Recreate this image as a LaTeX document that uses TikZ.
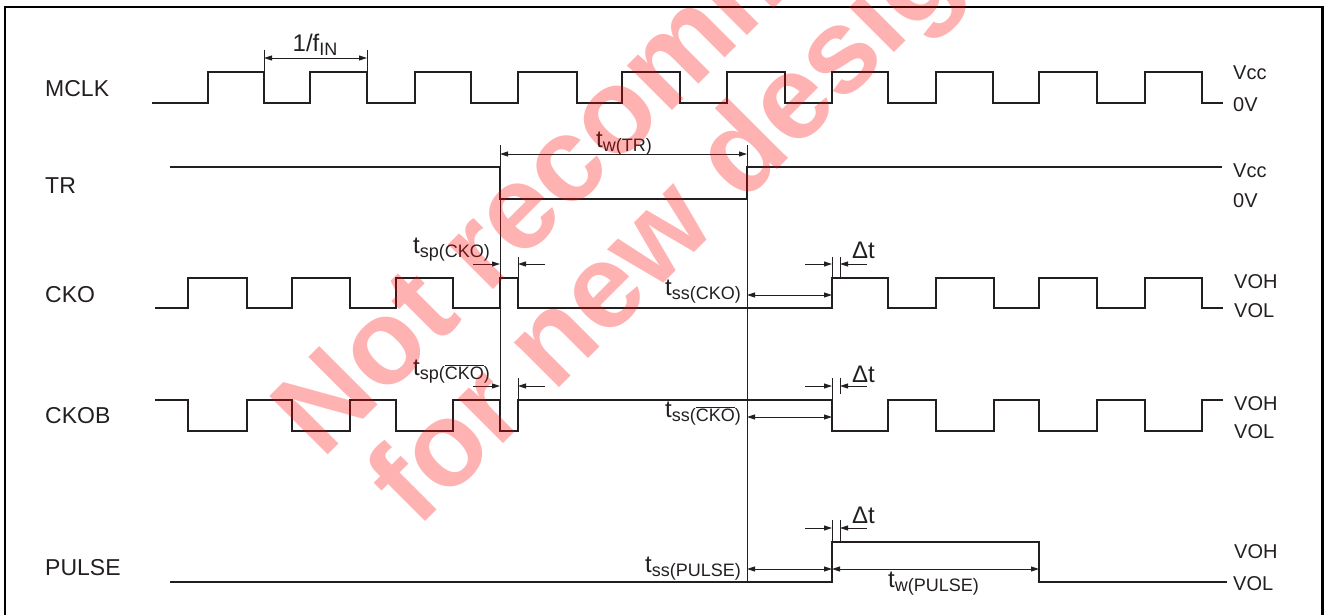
\documentclass[tikz,border=0pt]{standalone}
\usepackage{fontspec}
\setmainfont{Liberation Sans}
\usetikzlibrary{arrows.meta}
\definecolor{sigc}{RGB}{35,31,32}
\newcommand{\sbx}[1]{\raisebox{-4pt}{\fontsize{18}{18}\selectfont #1}}
\newcommand{\ovl}[1]{$\overline{\hbox{#1}}$}
\begin{document}
\begin{tikzpicture}[x=1pt,y=-1pt,
  sig/.style={line width=2.8pt, color=sigc, line join=miter},
  thinl/.style={line width=0.9pt, color=sigc},
  dim/.style={thinl, {Triangle[length=8pt,width=5pt]}-{Triangle[length=8pt,width=5pt]}},
  arr/.style={thinl, -{Triangle[length=8pt,width=5pt]}},
  lbl/.style={font=\fontsize{23}{23}\selectfont, anchor=base west, inner sep=0, text=sigc},
  rl/.style={font=\fontsize{20}{20}\selectfont, anchor=base west, inner sep=0, text=sigc},
  tl/.style={font=\fontsize{24}{24}\selectfont, inner sep=0, text=sigc},
  wm/.style={font=\fontsize{120}{120}\selectfont\bfseries, text=red, text opacity=0.3, rotate=45, anchor=base west, inner sep=0}]
\useasboundingbox (0,0) rectangle (1324,615);
% frame
\draw[line width=2.5pt, color=black] (5,616) -- (5,7) -- (1322.5,7) -- (1322.5,616);
% signal labels
\node[lbl] (lmclk) at (45,97) {MCLK};
\node[lbl] (ltr) at (45,193) {TR};
\node[lbl] (lcko) at (45,302) {CKO};
\node[lbl] (lckob) at (45,423) {CKOB};
\node[lbl] (lpulse) at (45,575) {PULSE};
% level labels
\node[rl] (r1) at (1233,80) {Vcc};
\node[rl] (r2) at (1233,112) {0V};
\node[rl] (r3) at (1233,177) {Vcc};
\node[rl] (r4) at (1233,207) {0V};
\node[rl] (r5) at (1234,288) {VOH};
\node[rl] (r6) at (1234,317) {VOL};
\node[rl] (r7) at (1234,410) {VOH};
\node[rl] (r8) at (1234,438) {VOL};
\node[rl] (r9) at (1234,558) {VOH};
\node[rl] (r10) at (1233,590) {VOL};
% waveforms
\draw[sig] (152,103) -- (208,103) -- (208,72) -- (264,72) -- (264,103) -- (310,103) -- (310,72) -- (367,72) -- (367,103) -- (415,103) -- (415,72) -- (471,72) -- (471,103) -- (518,103) -- (518,72) -- (577,72) -- (577,103) -- (622,103) -- (622,72) -- (680,72) -- (680,103) -- (727,103) -- (727,72) -- (785,72) -- (785,103) -- (832,103) -- (832,72) -- (888,72) -- (888,103) -- (936,103) -- (936,72) -- (993,72) -- (993,103) -- (1039,103) -- (1039,72) -- (1097,72) -- (1097,103) -- (1145,103) -- (1145,72) -- (1202,72) -- (1202,103) -- (1223,103);
\draw[sig] (170,167) -- (500,167) -- (500,199) -- (747,199) -- (747,167) -- (1222,167);
\draw[sig] (155,308) -- (188,308) -- (188,278) -- (247,278) -- (247,308) -- (292,308) -- (292,278) -- (350,278) -- (350,308) -- (396,308) -- (396,278) -- (453,278) -- (453,308) -- (500,308) -- (500,278) -- (518,278) -- (518,308) -- (832,308) -- (832,278) -- (888,278) -- (888,308) -- (936,308) -- (936,278) -- (994,278) -- (994,308) -- (1039,308) -- (1039,278) -- (1097,278) -- (1097,308) -- (1145,308) -- (1145,278) -- (1202,278) -- (1202,308) -- (1223,308);
\draw[sig] (155,400) -- (188,400) -- (188,431) -- (247,431) -- (247,400) -- (292,400) -- (292,431) -- (350,431) -- (350,400) -- (396,400) -- (396,431) -- (453,431) -- (453,400) -- (500,400) -- (500,431) -- (518,431) -- (518,400) -- (832,400) -- (832,431) -- (888,431) -- (888,400) -- (936,400) -- (936,431) -- (994,431) -- (994,400) -- (1039,400) -- (1039,431) -- (1097,431) -- (1097,400) -- (1145,400) -- (1145,431) -- (1202,431) -- (1202,400) -- (1223,400);
\draw[sig] (170,582) -- (832,582) -- (832,542) -- (1039,542) -- (1039,582) -- (1227,582);
% coordinates
\coordinate (fa) at (264,58); \coordinate (fb) at (367,58);
\coordinate (twa) at (500,154); \coordinate (twb) at (747,154);
\coordinate (ssa1) at (747,295); \coordinate (ssb1) at (832,295);
\coordinate (ssa2) at (747,417); \coordinate (ssb2) at (832,417);
\coordinate (ssa3) at (747,569); \coordinate (ssb3) at (832,569); \coordinate (pwb) at (1039,569);
% 1/fIN
\draw[thinl] (264,50) -- (264,72); \draw[thinl] (367,50) -- (367,72);
\draw[dim] (fa) -- (fb);
\node[tl, anchor=base] (lf) at (315,52) {1/f\sbx{IN}};
% tw(TR)
\draw[thinl] (500,145) -- (500,431);
\draw[thinl] (747,145) -- (747,582);
\draw[dim] (twa) -- (twb);
\node[tl, anchor=base] (ltw) at (624,147) {t\sbx{w(TR)}};
% CKO tsp
\coordinate (sp1l) at (473,264); \coordinate (sp1a) at (500,264);
\coordinate (sp1r) at (545,264); \coordinate (sp1b) at (518,264);
\draw[thinl] (518,257) -- (518,278);
\draw[arr] (sp1l) -- (sp1a); \draw[arr] (sp1r) -- (sp1b);
\node[tl, anchor=base east] (lsp1) at (490,253) {t\sbx{sp(CKO)}};
% CKO dt
\coordinate (d1l) at (805,264); \coordinate (d1a) at (832,264);
\coordinate (d1r) at (867,264); \coordinate (d1b) at (840,264);
\draw[thinl] (832,257) -- (832,278); \draw[thinl] (840,257) -- (840,278);
\draw[arr] (d1l) -- (d1a); \draw[arr] (d1r) -- (d1b);
\node[tl, anchor=base west] (ld1) at (852,258) {Δt};
% CKO tss
\draw[dim] (ssa1) -- (ssb1);
\node[tl, anchor=base east] (lss1) at (741,295) {t\sbx{ss(CKO)}};
% CKOB tsp
\coordinate (sp2l) at (473,386); \coordinate (sp2a) at (500,386);
\coordinate (sp2r) at (545,386); \coordinate (sp2b) at (518,386);
\draw[thinl] (518,378) -- (518,400);
\draw[arr] (sp2l) -- (sp2a); \draw[arr] (sp2r) -- (sp2b);
\node[tl, anchor=base east] (lsp2) at (490,375) {t\sbx{sp(\ovl{CKO})}};
% CKOB dt
\coordinate (d2l) at (805,386); \coordinate (d2a) at (832,386);
\coordinate (d2r) at (867,386); \coordinate (d2b) at (840,386);
\draw[thinl] (832,378) -- (832,400); \draw[thinl] (840,378) -- (840,394);
\draw[arr] (d2l) -- (d2a); \draw[arr] (d2r) -- (d2b);
\node[tl, anchor=base west] (ld2) at (852,382) {Δt};
% CKOB tss
\draw[dim] (ssa2) -- (ssb2);
\node[tl, anchor=base east] (lss2) at (741,417) {t\sbx{ss(\ovl{CKO})}};
% PULSE dt
\coordinate (d3l) at (805,528); \coordinate (d3a) at (832,528);
\coordinate (d3r) at (867,528); \coordinate (d3b) at (840,528);
\draw[thinl] (832,520) -- (832,542); \draw[thinl] (840,520) -- (840,542);
\draw[arr] (d3l) -- (d3a); \draw[arr] (d3r) -- (d3b);
\node[tl, anchor=base west] (ld3) at (852,523) {Δt};
% PULSE tss, tw
\draw[dim] (ssa3) -- (ssb3);
\node[tl, anchor=base east] (lss3) at (741,572) {t\sbx{ss(PULSE)}};
\draw[dim] (ssb3) -- (pwb);
\node[tl, anchor=base west] (lpw) at (888,587) {t\sbx{w(PULSE)}};
% watermark
\begin{scope}
\clip (0,0) rectangle (1324,615);
\node[wm] (wm1) at (322,461) {Not recommended};
\node[wm] (wm2) at (417,530) {for new design};
\end{scope}
\end{tikzpicture}
\end{document}
